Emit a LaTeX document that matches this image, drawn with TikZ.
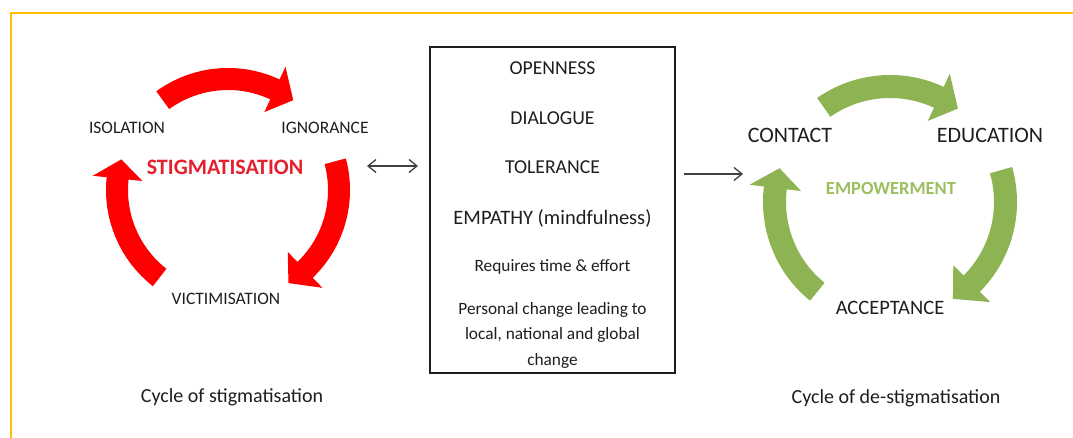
\documentclass[tikz,border=0pt]{standalone}
\usepackage{fontspec}
\setmainfont{Carlito}
\usetikzlibrary{arrows.meta}

\definecolor{frameGold}{HTML}{FFC000}
\definecolor{cycRed}{HTML}{FF0000}
\definecolor{titleRed}{HTML}{E5202E}
\definecolor{cycGreen}{HTML}{8DB352}
\definecolor{titleGreen}{HTML}{9BBF5F}
\definecolor{ink}{HTML}{1E1E1E}

% one curved arrow of a cycle: #1 tail angle, #2 head base angle, #3 tip angle,
% #4 outer radius, #5 inner radius, #6 half width of the head, #7 colour
\newcommand{\cyclearrow}[7]{%
  \pgfmathsetmacro{\rmid}{(#4+#5)/2}%
  \pgfmathsetmacro{\rhout}{\rmid+#6}%
  \pgfmathsetmacro{\rhin}{\rmid-#6}%
  \fill[#7] (#1:#4pt) arc[start angle=#1, end angle=#2, radius=#4pt]
    -- (#2:\rhout pt) -- (#3:\rmid pt) -- (#2:\rhin pt)
    -- (#2:#5pt) arc[start angle=#2, end angle=#1, radius=#5pt] -- cycle;}

\begin{document}
\begin{tikzpicture}[x=1pt, y=-1pt,
  lbl/.style={font=\fontsize{17.5}{20}\selectfont, text=ink, inner sep=0pt},
  lblbig/.style={font=\fontsize{22}{26}\selectfont, text=ink, inner sep=0pt},
  boxcap/.style={font=\fontsize{19.7}{23}\selectfont, text=ink, inner sep=0pt},
  boxsmall/.style={font=\fontsize{17.3}{25.5}\selectfont, text=ink, inner sep=0pt, align=center},
  caption/.style={font=\fontsize{20}{24}\selectfont, text=ink, inner sep=0pt},
  link/.style={line width=1.3pt, draw=ink!85, {Straight Barb[length=8pt,width=13pt]}-{Straight Barb[length=8pt,width=13pt]}},
  linkone/.style={line width=1.3pt, draw=ink!85, -{Straight Barb[length=8pt,width=13pt]}}]
\useasboundingbox (0,0) rectangle (1073,438);

% page frame
\draw[frameGold, line width=2pt] (11,438) -- (11,13) -- (1073,13);

% cycle of stigmatisation
\begin{scope}[shift={(228,190)}]
  \cyclearrow{126}{65}{54}{122}{100}{25}{cycRed}
  \cyclearrow{15}{-46}{-57}{122}{100}{25}{cycRed}
  \cyclearrow{232}{174}{164}{122}{100}{25}{cycRed}
\end{scope}
\node[lbl] (isolation) at (127,128) {ISOLATION};
\node[lbl] (ignorance) at (325,128) {IGNORANCE};
\node[font=\bfseries\fontsize{22}{26}\selectfont, text=titleRed, inner sep=0pt] (stig) at (225,167) {STIGMATISATION};
\node[lbl] (victim) at (226,299) {VICTIMISATION};
\node[caption] (cap1) at (232,397) {Cycle of stigmatisation};

% cycle of de-stigmatisation
\begin{scope}[shift={(890,202)}]
  \cyclearrow{125}{65}{54}{127}{104}{26}{cycGreen}
  \cyclearrow{16}{-45}{-57}{127}{104}{26}{cycGreen}
  \cyclearrow{231}{173}{163}{127}{104}{26}{cycGreen}
\end{scope}
\node[lblbig] (contact) at (790,135) {CONTACT};
\node[lblbig] (education) at (990,135) {EDUCATION};
\node[font=\bfseries\fontsize{18.5}{22}\selectfont, text=titleGreen, inner sep=0pt] (empower) at (891,188) {EMPOWERMENT};
\node[font=\fontsize{20.5}{24}\selectfont, text=ink, inner sep=0pt] (accept) at (890,308) {ACCEPTANCE};
\node[caption] (cap2) at (896,398) {Cycle of de-stigmatisation};

% the central box
\node[draw=ink, line width=1.2pt, minimum width=245pt, minimum height=326pt, inner sep=0pt] (box) at (552.5,210) {};
\node[boxcap] (open) at (552.5,68) {OPENNESS};
\node[boxcap] (dial) at (552.5,118) {DIALOGUE};
\node[boxcap] (tol) at (552.5,167) {TOLERANCE};
\node[boxcap, font=\fontsize{20.5}{24}\selectfont] (emp) at (552.5,218) {EMPATHY (mindfulness)};
\node[boxsmall] (req) at (552.5,267) {Requires time \& effort};
\node[boxsmall, anchor=north] (pers) at (552.5,302) {Personal change leading to\\local, national and global\\change};

% connectors
\coordinate (bl) at (367,166);
\coordinate (br) at (418,166);
\draw[link] (bl) -- (br);
\coordinate (gl) at (684,174);
\coordinate (gr) at (743,174);
\draw[linkone] (gl) -- (gr);
\end{tikzpicture}
\end{document}
